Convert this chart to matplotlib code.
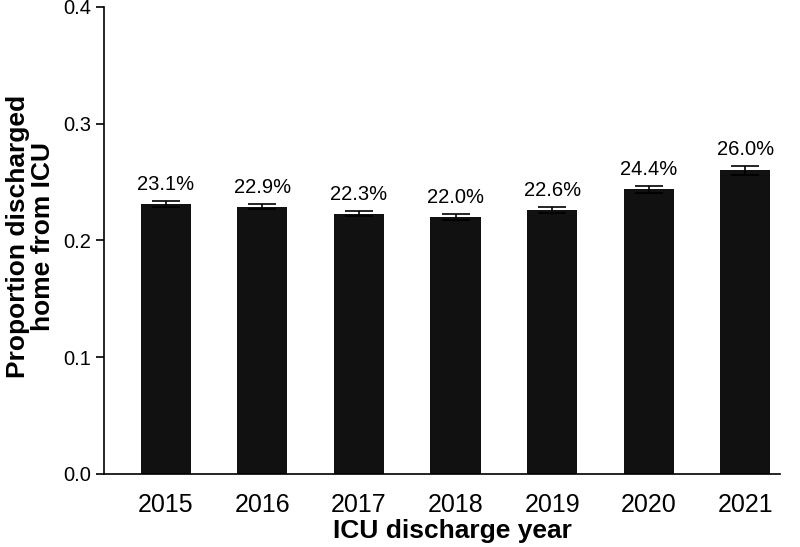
import numpy as np
import matplotlib
matplotlib.use("Agg")
import matplotlib.pyplot as plt

plt.rcParams["font.family"] = ["Liberation Sans", "DejaVu Sans"]

years = ["2015", "2016", "2017", "2018", "2019", "2020", "2021"]
proportions = [0.231, 0.229, 0.223, 0.220, 0.226, 0.244, 0.260]
errors = [0.0025, 0.0025, 0.0025, 0.0025, 0.0025, 0.003, 0.004]
labels = ["23.1%", "22.9%", "22.3%", "22.0%", "22.6%", "24.4%", "26.0%"]

fig = plt.figure(figsize=(8, 5.47), dpi=100)
ax = fig.add_axes([0.13, 0.1335, 0.845, 0.854])

x = np.arange(len(years))
ax.bar(x, proportions, width=0.52, color="#111111", zorder=2)
ax.errorbar(x, proportions, yerr=errors, fmt="none", ecolor="black",
            elinewidth=1.2, capsize=10, capthick=1.2, zorder=3)

for i, lab in enumerate(labels):
    ax.text(x[i], proportions[i] + errors[i] + 0.006, lab, ha="center",
            va="bottom", fontsize=14.5)

ax.set_xlim(-0.64, 6.36)
ax.set_ylim(0, 0.4)
ax.set_yticks([0.0, 0.1, 0.2, 0.3, 0.4])
ax.set_yticklabels(["0.0", "0.1", "0.2", "0.3", "0.4"], fontsize=14.5)
ax.set_xticks(x)
ax.set_xticklabels(years, fontsize=18)
ax.tick_params(axis="x", length=0, pad=14)
ax.tick_params(axis="y", length=6, width=1.2, pad=3)

for s in ["top", "right"]:
    ax.spines[s].set_visible(False)
ax.spines["left"].set_linewidth(1.2)
ax.spines["bottom"].set_linewidth(1.2)

ax.set_xlabel("ICU discharge year", fontsize=19, fontweight="bold")
ax.xaxis.set_label_coords(0.515, -0.097)
ax.set_ylabel("Proportion discharged\nhome from ICU", fontsize=19,
              fontweight="bold", linespacing=1.05)
ax.yaxis.set_label_coords(-0.072, 0.508)

fig.savefig("out.png", dpi=100)
